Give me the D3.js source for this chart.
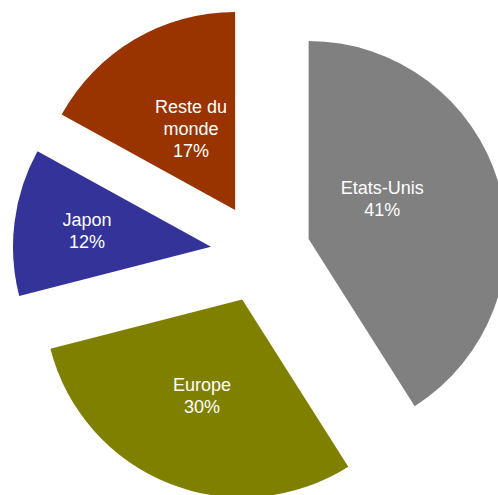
<!DOCTYPE html>
<html>
<head>
<meta charset="utf-8">
<script src="https://cdn.jsdelivr.net/npm/d3@7"></script>
<style>
  html, body { margin: 0; padding: 0; background: #ffffff; }
  svg { display: block; }
</style>
</head>
<body>
<div id="chart"></div>
<script>
// Market share by region
const categories = ["Etats-Unis", "Europe", "Japon", "Reste du monde"];
const shares = [41, 30, 12, 17];
const colors = ["#808080", "#808000", "#333399", "#993300"];

// Label placement inside each exploded slice: radial distance and angular nudge (degrees)
const labelRadius = [84, 104, 125, 93];
const labelAngleShift = [-12.4, 1.1, 0.3, 2.3];

const width = 498, height = 495;
const cx = 260.6, cy = 253;
const radius = 198;
const explode = 50;
const fontSize = 18, lineHeight = 22;

const svg = d3.select("#chart").append("svg")
  .attr("width", width)
  .attr("height", height);

const pie = d3.pie().sort(null).value(d => d.value).startAngle(0).endAngle(2 * Math.PI);
const arc = d3.arc().innerRadius(0).outerRadius(radius);

const data = categories.map((c, i) => ({ name: c, value: shares[i], color: colors[i], idx: i }));
const total = d3.sum(shares);
const arcs = pie(data);

const g = svg.append("g").attr("transform", `translate(${cx},${cy})`);

const slices = g.selectAll("g.slice")
  .data(arcs)
  .join("g")
  .attr("class", "slice")
  .attr("transform", d => {
    const mid = (d.startAngle + d.endAngle) / 2;
    return `translate(${explode * Math.sin(mid)},${-explode * Math.cos(mid)})`;
  });

slices.append("path")
  .attr("d", arc)
  .attr("fill", d => d.data.color);

// Break a label into lines no wider than maxWidth
function wrapWords(text, maxWidth) {
  const probe = svg.append("text")
    .attr("font-family", "'Liberation Sans', Arial, sans-serif")
    .attr("font-size", fontSize);
  const words = text.split(" ");
  const lines = [];
  let line = [];
  words.forEach(w => {
    const trial = line.concat(w).join(" ");
    probe.text(trial);
    if (line.length && probe.node().getComputedTextLength() > maxWidth) {
      lines.push(line.join(" "));
      line = [w];
    } else {
      line.push(w);
    }
  });
  if (line.length) lines.push(line.join(" "));
  probe.remove();
  return lines;
}

slices.each(function(d) {
  const i = d.data.idx;
  const mid = (d.startAngle + d.endAngle) / 2 + labelAngleShift[i] * Math.PI / 180;
  const lx = labelRadius[i] * Math.sin(mid);
  const ly = -labelRadius[i] * Math.cos(mid);
  const lines = wrapWords(d.data.name, 90);
  lines.push(Math.round(d.data.value / total * 100) + "%");
  const n = lines.length;
  const t = d3.select(this).append("text")
    .attr("font-family", "'Liberation Sans', Arial, sans-serif")
    .attr("font-size", fontSize)
    .attr("fill", "#ffffff")
    .attr("text-anchor", "middle");
  lines.forEach((s, k) => {
    t.append("tspan")
      .attr("x", lx)
      .attr("y", ly + (k - (n - 1) / 2) * lineHeight + 6.5)
      .text(s);
  });
});
</script>
</body>
</html>
